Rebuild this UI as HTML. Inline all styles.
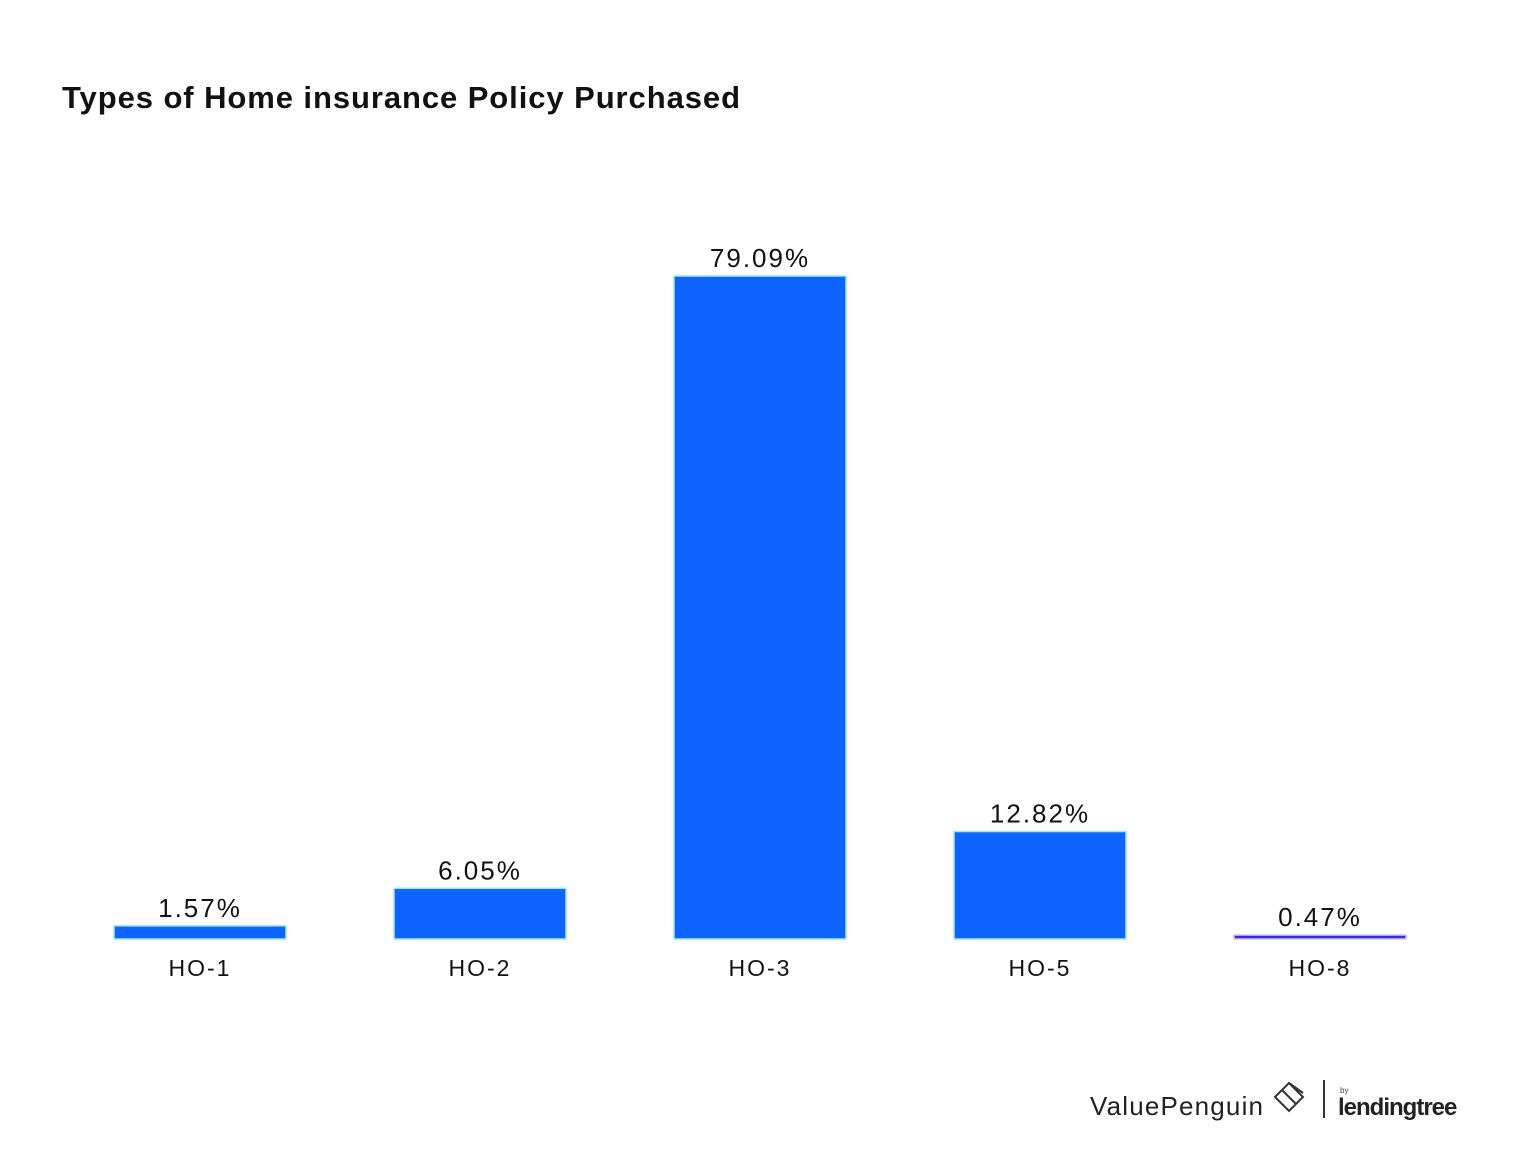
<!DOCTYPE html>
<html><head><meta charset="utf-8"><style>
body{margin:0;background:#fff;width:1520px;height:1154px;overflow:hidden;font-family:"Liberation Sans",sans-serif}
</style></head><body>
<svg width="1520" height="1154">
<text x="62" y="108" font-size="31" font-weight="bold" fill="#111" textLength="678" lengthAdjust="spacing">Types of Home insurance Policy Purchased</text>
<g id="bars"></g>
<g>
<text x="1090" y="1115" font-size="26" fill="#222" textLength="173" lengthAdjust="spacing">ValuePenguin</text>
<path d="M1275 1097 l14 -14 l14 14 l-14 14 z M1282 1090 l14 14 M1289 1083 l14 10" stroke="#333" stroke-width="2" fill="none"/>
<line x1="1324" y1="1080" x2="1324" y2="1118" stroke="#333" stroke-width="2"/>
<text x="1338" y="1115" font-size="24" font-weight="bold" fill="#222" letter-spacing="-1">lendingtree</text>
<text x="1340" y="1093" font-size="8" fill="#444">by</text>
</g>
</svg>
<script>
const categories=["HO-1","HO-2","HO-3","HO-5","HO-8"];
const values=[1.57,6.05,79.09,12.82,0.47];
const labels=["1.57%","6.05%","79.09%","12.82%","0.47%"];
const base=939, pxPer=663/79.09, x0=114, step=280, bw=172;
const y=v=>base-v*pxPer;
const ns="http://www.w3.org/2000/svg";
const g=document.getElementById('bars');
categories.forEach((c,i)=>{
  const x=x0+i*step, top=y(values[i]), h=Math.max(base-top,2.5);
  const r=document.createElementNS(ns,'rect');
  
  
  r.setAttribute('x',x);r.setAttribute('y',base-h);r.setAttribute('width',bw);r.setAttribute('height',h);
  r.setAttribute('fill',c==="HO-8"?'#3a2bd8':'#0d64ff');
  r.setAttribute('stroke',c==="HO-8"?'#c9c0ff':'#9fe6ff');r.setAttribute('stroke-width','1.5');
  g.appendChild(r);
  const t=document.createElementNS(ns,'text');
  
  
  t.setAttribute('x',x+bw/2);t.setAttribute('y',base-h-9);t.setAttribute('text-anchor','middle');
  t.setAttribute('font-size','26');t.setAttribute('letter-spacing','2');t.setAttribute('fill','#111');t.textContent=labels[i];
  g.appendChild(t);
  const l=document.createElementNS(ns,'text');
  
  
  l.setAttribute('x',x+bw/2);l.setAttribute('y',976);l.setAttribute('text-anchor','middle');
  l.setAttribute('font-size','23');l.setAttribute('letter-spacing','2');l.setAttribute('fill','#111');l.textContent=c;
  g.appendChild(l);
});
</script>
</body></html>
